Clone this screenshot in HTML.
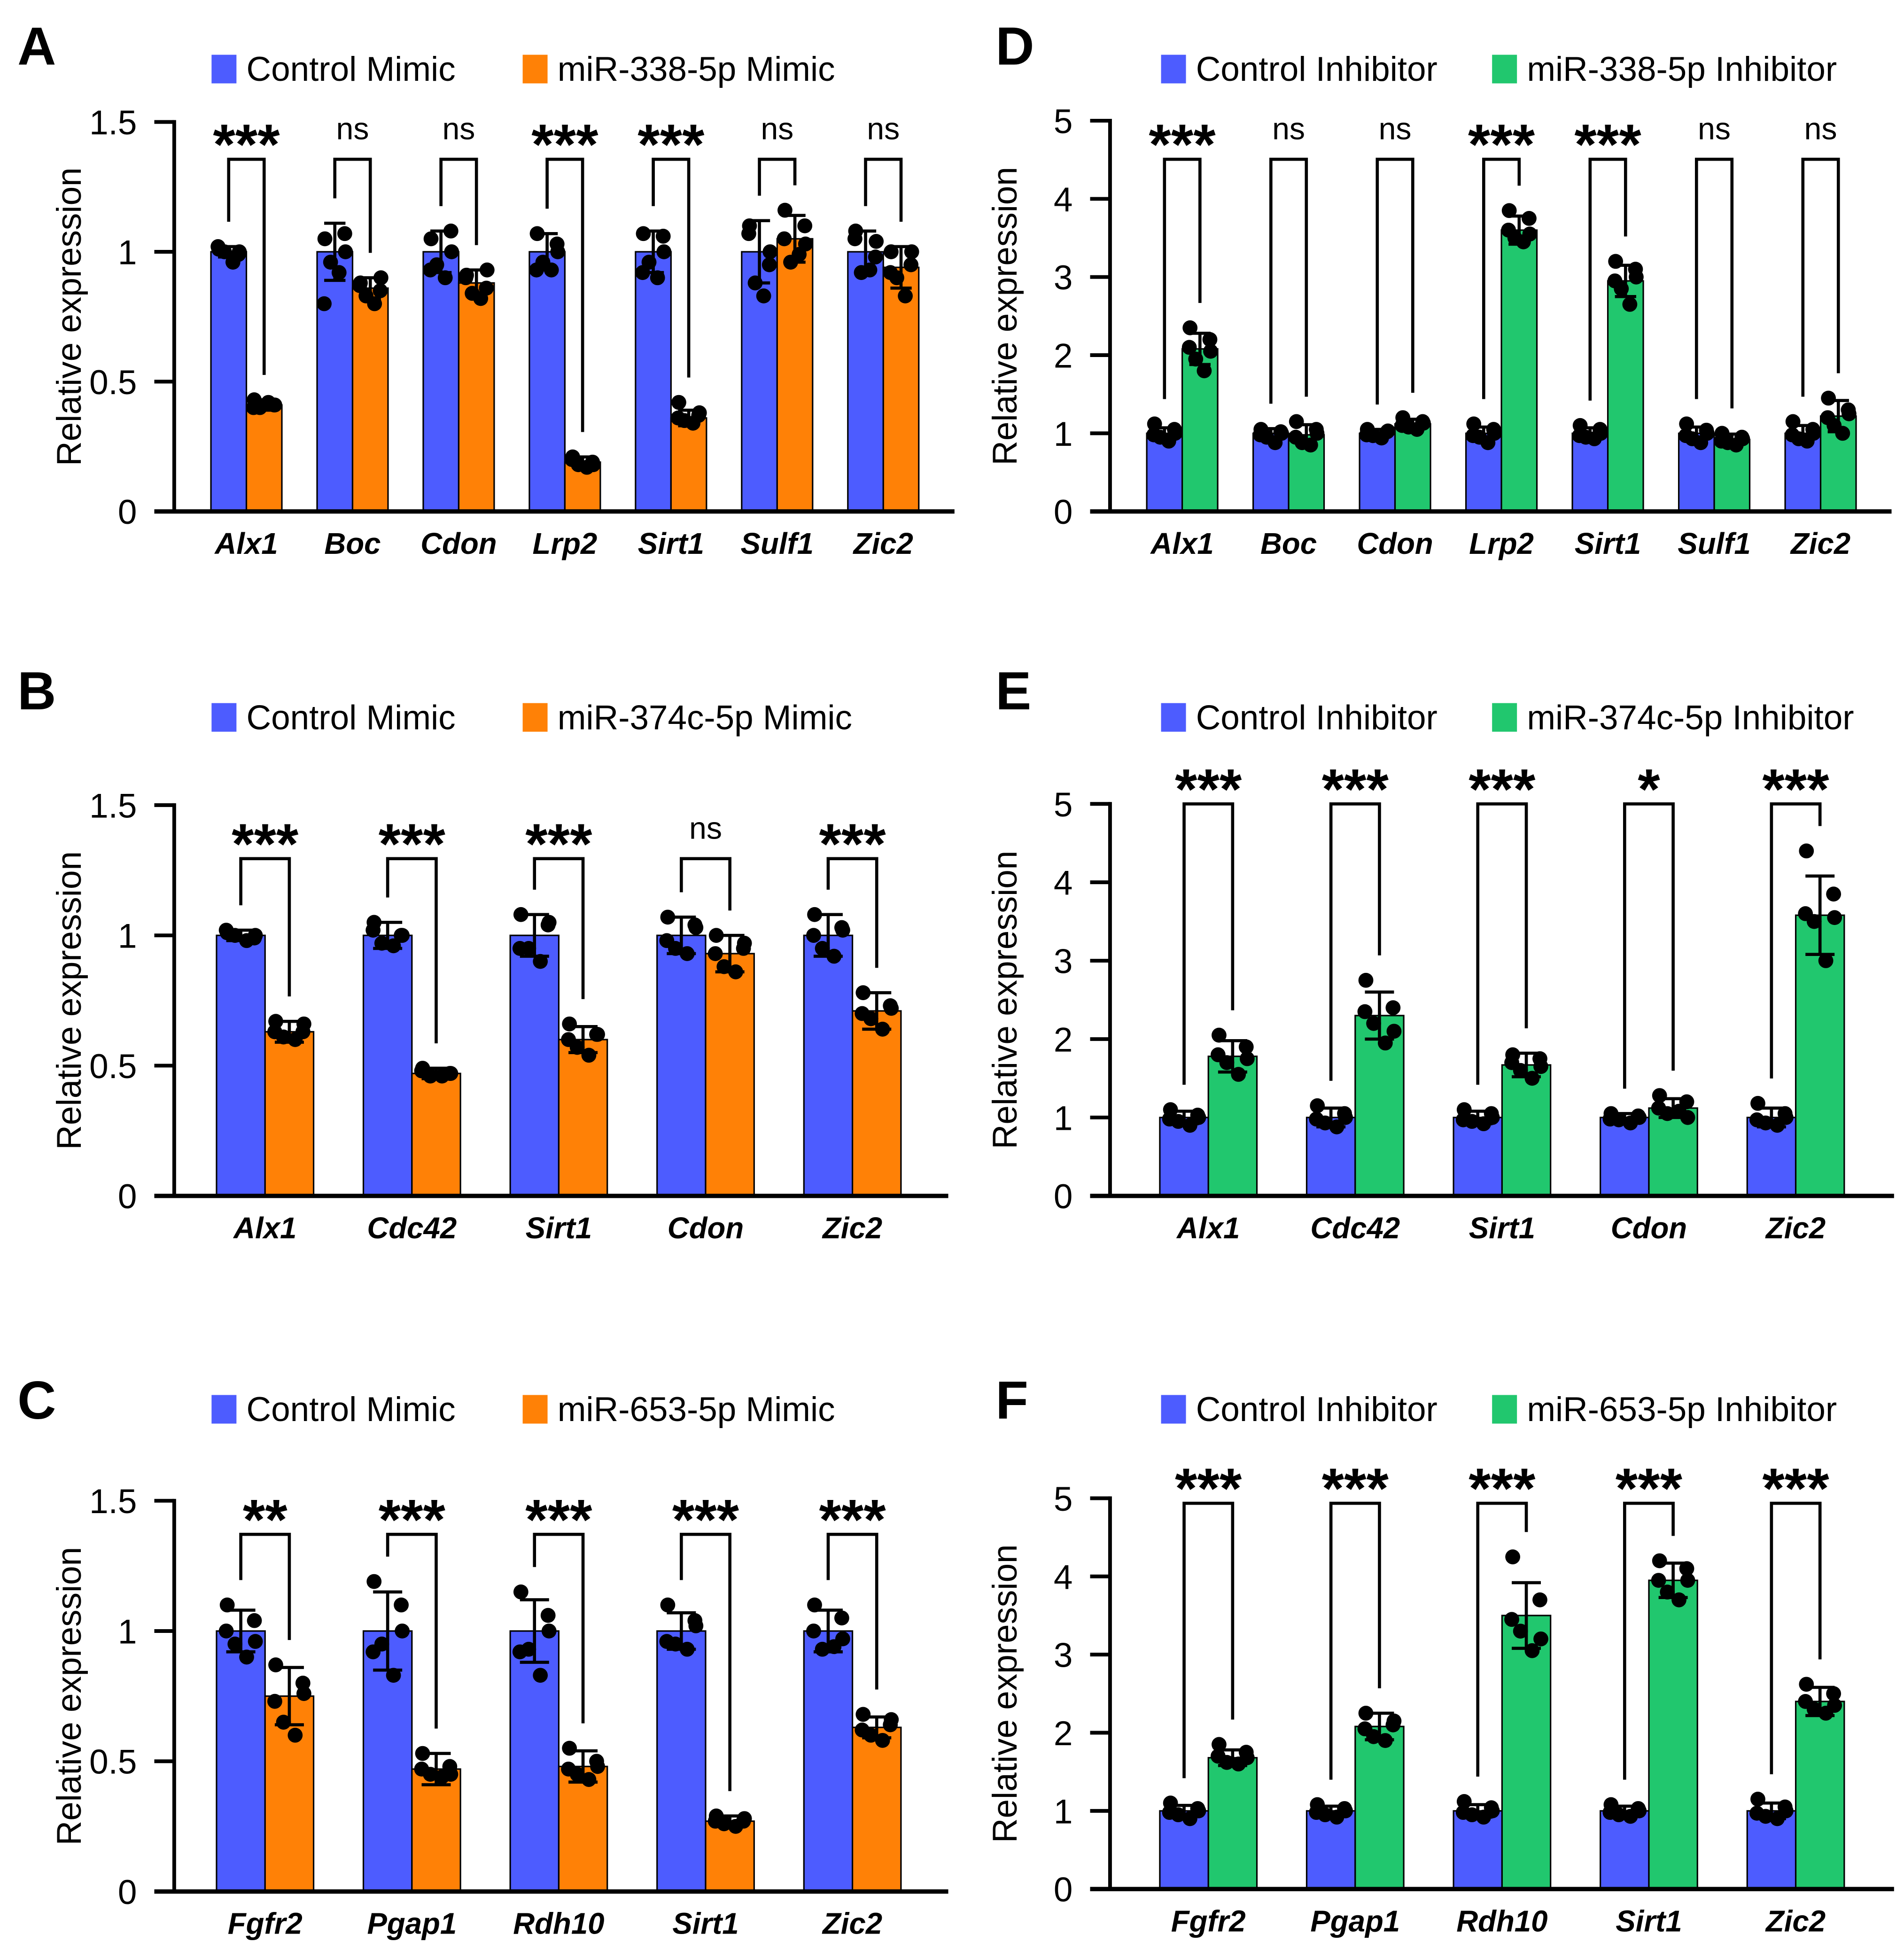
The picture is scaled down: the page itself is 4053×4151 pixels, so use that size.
<!DOCTYPE html>
<html><head><meta charset="utf-8">
<style>
html,body{margin:0;padding:0;background:#fff;}
svg{display:block;}
text{font-family:"Liberation Sans",Arial,sans-serif;}
</style></head>
<body>
<svg id="fig" xmlns="http://www.w3.org/2000/svg" width="4053" height="4151" viewBox="0 0 1530 1567"></svg>
<script>
// ---------- DATA ----------
const genesA = ["Alx1","Boc","Cdon","Lrp2","Sirt1","Sulf1","Zic2"];
const ctrlMeanA = [1,1,1,1,1,1,1];
const ctrlSdA = [0.02,0.11,0.08,0.07,0.08,0.12,0.08];
const trtMeanA = [0.41,0.86,0.88,0.19,0.36,1.05,0.94];
const trtSdA = [0.02,0.04,0.05,0.02,0.03,0.09,0.08];
const ctrlPtsA = [[1.01,0.99,1.0,0.96,1.02,1.0],[1.05,1.07,0.96,0.92,0.8,1.0],[1.05,1.08,0.95,0.9,0.93,1.0],[1.07,1.03,0.96,0.93,0.93,1.0],[1.07,1.06,0.96,0.9,0.92,1.0],[1.1,0.95,0.88,0.83,1.07,1.0],[1.08,0.98,0.92,0.93,1.05,1.04]];
const trtPtsA = [[0.43,0.41,0.40,0.42,0.40,0.41],[0.88,0.85,0.83,0.80,0.87,0.9],[0.91,0.86,0.84,0.82,0.9,0.93],[0.21,0.19,0.18,0.17,0.2,0.18],[0.42,0.37,0.35,0.34,0.36,0.38],[1.16,1.1,0.96,0.99,1.05,1.03],[1.0,0.95,0.9,0.83,0.92,1.0]];
const sigA = ["***","ns","ns","***","***","ns","ns"];

const genesB = ["Alx1","Cdc42","Sirt1","Cdon","Zic2"];
const ctrlMeanB = [1,1,1,1,1];
const ctrlSdB = [0.02,0.05,0.08,0.07,0.08];
const trtMeanB = [0.63,0.47,0.60,0.93,0.71];
const trtSdB = [0.04,0.02,0.05,0.07,0.07];
const ctrlPtsB = [[1.01,0.99,1.0,0.98,1.02,1.0],[1.05,1.0,0.97,0.96,1.02,1.0],[1.08,1.04,0.95,0.9,0.95,1.05],[1.07,1.04,0.95,0.93,0.98,1.03],[1.08,1.03,0.95,0.92,1.0,1.02]];
const trtPtsB = [[0.67,0.63,0.61,0.60,0.63,0.66],[0.49,0.47,0.46,0.46,0.48,0.47],[0.66,0.62,0.57,0.54,0.6,0.62],[1.0,0.95,0.88,0.86,0.93,0.97],[0.78,0.73,0.68,0.64,0.7,0.72]];
const sigB = ["***","***","***","ns","***"];

const genesC = ["Fgfr2","Pgap1","Rdh10","Sirt1","Zic2"];
const ctrlMeanC = [1,1,1,1,1];
const ctrlSdC = [0.08,0.15,0.12,0.07,0.08];
const trtMeanC = [0.75,0.47,0.48,0.27,0.63];
const trtSdC = [0.11,0.06,0.06,0.02,0.04];
const ctrlPtsC = [[1.1,1.04,0.95,0.9,1.0,0.96],[1.19,1.1,0.95,0.83,0.92,1.0],[1.15,1.06,0.93,0.83,0.92,1.0],[1.1,1.04,0.95,0.93,0.96,1.02],[1.1,1.05,0.93,0.94,1.0,0.97]];
const trtPtsC = [[0.87,0.8,0.65,0.6,0.73,0.76],[0.53,0.48,0.45,0.44,0.47,0.45],[0.55,0.5,0.45,0.43,0.47,0.48],[0.29,0.27,0.26,0.25,0.27,0.28],[0.68,0.64,0.6,0.58,0.62,0.66]];
const sigC = ["**","***","***","***","***"];

const genesD = ["Alx1","Boc","Cdon","Lrp2","Sirt1","Sulf1","Zic2"];
const ctrlMeanD = [1,1,1,1,1,1,1];
const ctrlSdD = [0.07,0.06,0.05,0.08,0.07,0.08,0.1];
const trtMeanD = [2.08,0.98,1.12,3.6,2.95,0.92,1.22];
const trtSdD = [0.2,0.13,0.06,0.18,0.2,0.07,0.2];
const ctrlPtsD = [[1.12,1.05,0.95,0.9,0.98,1.0],[1.05,1.02,0.95,0.88,0.98,1.0],[1.05,1.02,0.97,0.94,0.98,1.03],[1.12,1.05,0.95,0.88,0.97,1.0],[1.1,1.05,0.95,0.93,0.97,1.0],[1.12,1.04,0.93,0.88,0.97,1.0],[1.15,1.05,0.93,0.9,0.98,1.0]];
const trtPtsD = [[2.35,2.2,1.95,1.8,2.1,2.05],[1.15,1.05,0.88,0.85,0.95,1.0],[1.2,1.15,1.08,1.05,1.1,1.13],[3.85,3.75,3.5,3.45,3.6,3.55],[3.2,3.1,2.85,2.65,2.95,3.0],[1.0,0.95,0.88,0.85,0.9,0.93],[1.45,1.3,1.1,1.0,1.2,1.25]];
const sigD = ["***","ns","ns","***","***","ns","ns"];

const genesE = ["Alx1","Cdc42","Sirt1","Cdon","Zic2"];
const ctrlMeanE = [1,1,1,1,1];
const ctrlSdE = [0.08,0.12,0.08,0.05,0.12];
const trtMeanE = [1.78,2.3,1.67,1.12,3.58];
const trtSdE = [0.2,0.3,0.15,0.12,0.5];
const ctrlPtsE = [[1.1,1.03,0.95,0.9,0.98,1.0],[1.15,1.05,0.93,0.88,0.98,1.0],[1.1,1.05,0.95,0.92,0.97,1.0],[1.05,1.02,0.97,0.93,0.98,1.0],[1.18,1.05,0.93,0.9,0.97,1.0]];
const trtPtsE = [[2.05,1.9,1.7,1.55,1.8,1.75],[2.75,2.4,2.2,1.95,2.35,2.1],[1.8,1.75,1.6,1.5,1.7,1.65],[1.28,1.2,1.05,1.08,1.12,1.0],[4.4,3.85,3.5,3.0,3.6,3.55]];
const sigE = ["***","***","***","*","***"];

const genesF = ["Fgfr2","Pgap1","Rdh10","Sirt1","Zic2"];
const ctrlMeanF = [1,1,1,1,1];
const ctrlSdF = [0.07,0.06,0.08,0.06,0.1];
const trtMeanF = [1.68,2.08,3.5,3.95,2.4];
const trtSdF = [0.1,0.17,0.42,0.22,0.18];
const ctrlPtsF = [[1.1,1.03,0.95,0.9,0.98,1.0],[1.08,1.03,0.95,0.92,0.98,1.0],[1.12,1.04,0.95,0.92,0.98,1.0],[1.08,1.03,0.95,0.93,0.98,1.0],[1.15,1.05,0.93,0.9,0.97,1.0]];
const trtPtsF = [[1.85,1.75,1.62,1.6,1.7,1.68],[2.25,2.1,1.95,1.9,2.05,2.15],[4.25,3.7,3.3,3.05,3.45,3.2],[4.2,4.1,3.8,3.7,3.95,3.95],[2.62,2.5,2.3,2.25,2.4,2.35]];
const sigF = ["***","***","***","***","***"];

const ticksMimic = [0,0.5,1,1.5];
const tickLabelsMimic = ["0","0.5","1","1.5"];
const ticksInh = [0,1,2,3,4,5];
const tickLabelsInh = ["0","1","2","3","4","5"];

// ---------- RENDER ----------
const NS = "http://www.w3.org/2000/svg";
const svg = document.getElementById("fig");
const BLUE = "#4d5cff", ORANGE = "#ff8106", GREEN = "#21c76e";
function mk(tag, attrs, parent) {
  const e = document.createElementNS(NS, tag);
  for (const k in attrs) e.setAttribute(k, attrs[k]);
  (parent || svg).appendChild(e);
  return e;
}
const jitter = [-0.28,0.28,-0.12,0.12,-0.3,0.3];

function panel(cfg) {
  const g = mk("g", {});
  
  
  const y = v => cfg.y0 - (v / cfg.ymax) * (cfg.y0 - cfg.ytop);
  const L = mk("text", {x: cfg.lx, y: cfg.ly, "font-size": 43, "font-weight": "bold"}, g);
  L.textContent = cfg.letter;
  
  
  const leg = [[cfg.leg1x, BLUE, cfg.name1], [cfg.leg2x, cfg.color, cfg.name2]];
  leg.forEach(([lx, col, name], i) => {
    const lg = mk("g", {}, g);
    
    
    mk("rect", {x: lx, y: cfg.legy - 21, width: 20, height: 23, fill: col}, lg);
    const t = mk("text", {x: lx + 28, y: cfg.legy, "font-size": 27.5}, lg);
    t.textContent = name;
  });
  const ax = mk("g", {}, g);
  
  
  mk("line", {x1: cfg.ax, y1: cfg.ytop - 1.5, x2: cfg.ax, y2: cfg.y0 + 1.5, stroke: "#000", "stroke-width": 3}, ax);
  cfg.ticks.forEach((tv, i) => {
    mk("line", {x1: cfg.ax - 16, y1: y(tv), x2: cfg.ax, y2: y(tv), stroke: "#000", "stroke-width": 3}, ax);
    const t = mk("text", {x: cfg.ax - 30, y: y(tv) + 10, "font-size": 27.5, "text-anchor": "end"}, ax);
    t.textContent = cfg.tickLabels[i];
  });
  const yt = mk("text", {x: 0, y: 0, "font-size": 27.5, "text-anchor": "middle",
    transform: `translate(${cfg.ax - 75},${(cfg.ytop + cfg.y0) / 2}) rotate(-90)`}, g);
  yt.textContent = "Relative expression";
  
  
  const bw = cfg.bw;
  cfg.genes.forEach((gene, i) => {
    const cx = cfg.x0 + i * cfg.dx;
    const grp = mk("g", {}, g);
    
    
    const series = [[cx - bw, BLUE, cfg.cm[i], cfg.cs[i], cfg.cp[i]], [cx, cfg.color, cfg.tm[i], cfg.ts[i], cfg.tp[i]]];
    let tops = [];
    series.forEach(([bx, col, m, sd, pts], si) => {
      const r = mk("rect", {x: bx, y: y(m), width: bw, height: cfg.y0 - y(m), fill: col, stroke: "#000", "stroke-width": 1.2}, grp);
      
      
      const mx = bx + bw / 2, cap = bw * 0.3;
      mk("line", {x1: mx, y1: y(m + sd), x2: mx, y2: y(m - sd), stroke: "#000", "stroke-width": 2.5}, grp);
      mk("line", {x1: mx - cap, y1: y(m + sd), x2: mx + cap, y2: y(m + sd), stroke: "#000", "stroke-width": 2.5}, grp);
      mk("line", {x1: mx - cap, y1: y(m - sd), x2: mx + cap, y2: y(m - sd), stroke: "#000", "stroke-width": 2.5}, grp);
      pts.forEach((p, k) => {
        const c = mk("circle", {cx: mx + jitter[k] * bw, cy: y(p), r: 6, fill: "#000"}, grp);
        
        
      });
      tops.push(Math.min(y(m + sd), y(Math.max(...pts))));
    });
    const bxL = cx - bw / 2, bxR = cx + bw / 2;
    const br = mk("path", {d: `M${bxL},${tops[0] - 20} V${cfg.by} H${bxR} V${tops[1] - 20}`, fill: "none", stroke: "#000", "stroke-width": 2.5}, grp);
    
    
    const s = cfg.sig[i];
    const st = mk("text", {x: cx, y: s === "ns" ? cfg.by - 16 : cfg.by + 4, "font-size": s === "ns" ? 25 : 46, "font-weight": s === "ns" ? "normal" : "bold", "text-anchor": "middle"}, grp);
    st.textContent = s;
    
    
    const xl = mk("text", {x: cx, y: cfg.y0 + 34, "font-size": 24, "font-weight": "bold", "font-style": "italic", "text-anchor": "middle"}, grp);
    xl.textContent = gene;
    
    
  });
  const xa = mk("line", {x1: cfg.ax - 16, y1: cfg.y0, x2: cfg.xend, y2: cfg.y0, stroke: "#000", "stroke-width": 3.5}, g);
  
  
}

panel({letter:"A", lx:14, ly:52, leg1x:170, leg2x:420, legy:65, name1:"Control Mimic", name2:"miR-338-5p Mimic", color:ORANGE,
  ax:140, ytop:98, y0:411, ymax:1.5, ticks:ticksMimic, tickLabels:tickLabelsMimic, xend:767,
  x0:198, dx:85.3, bw:28.5, by:128, genes:genesA, cm:ctrlMeanA, cs:ctrlSdA, tm:trtMeanA, ts:trtSdA, cp:ctrlPtsA, tp:trtPtsA, sig:sigA});
panel({letter:"B", lx:14, ly:570, leg1x:170, leg2x:420, legy:586, name1:"Control Mimic", name2:"miR-374c-5p Mimic", color:ORANGE,
  ax:140, ytop:647, y0:961, ymax:1.5, ticks:ticksMimic, tickLabels:tickLabelsMimic, xend:762,
  x0:213, dx:118, bw:39, by:690, genes:genesB, cm:ctrlMeanB, cs:ctrlSdB, tm:trtMeanB, ts:trtSdB, cp:ctrlPtsB, tp:trtPtsB, sig:sigB});
panel({letter:"C", lx:14, ly:1140, leg1x:170, leg2x:420, legy:1142, name1:"Control Mimic", name2:"miR-653-5p Mimic", color:ORANGE,
  ax:140, ytop:1206, y0:1520, ymax:1.5, ticks:ticksMimic, tickLabels:tickLabelsMimic, xend:762,
  x0:213, dx:118, bw:39, by:1233, genes:genesC, cm:ctrlMeanC, cs:ctrlSdC, tm:trtMeanC, ts:trtSdC, cp:ctrlPtsC, tp:trtPtsC, sig:sigC});
panel({letter:"D", lx:800, ly:52, leg1x:933, leg2x:1199, legy:65, name1:"Control Inhibitor", name2:"miR-338-5p Inhibitor", color:GREEN,
  ax:892, ytop:97, y0:411, ymax:5, ticks:ticksInh, tickLabels:tickLabelsInh, xend:1520,
  x0:950, dx:85.5, bw:28.5, by:128, genes:genesD, cm:ctrlMeanD, cs:ctrlSdD, tm:trtMeanD, ts:trtSdD, cp:ctrlPtsD, tp:trtPtsD, sig:sigD});
panel({letter:"E", lx:800, ly:570, leg1x:933, leg2x:1199, legy:586, name1:"Control Inhibitor", name2:"miR-374c-5p Inhibitor", color:GREEN,
  ax:892, ytop:646, y0:961, ymax:5, ticks:ticksInh, tickLabels:tickLabelsInh, xend:1522,
  x0:971, dx:118, bw:39, by:646, genes:genesE, cm:ctrlMeanE, cs:ctrlSdE, tm:trtMeanE, ts:trtSdE, cp:ctrlPtsE, tp:trtPtsE, sig:sigE});
panel({letter:"F", lx:800, ly:1140, leg1x:933, leg2x:1199, legy:1142, name1:"Control Inhibitor", name2:"miR-653-5p Inhibitor", color:GREEN,
  ax:892, ytop:1204, y0:1518, ymax:5, ticks:ticksInh, tickLabels:tickLabelsInh, xend:1522,
  x0:971, dx:118, bw:39, by:1208, genes:genesF, cm:ctrlMeanF, cs:ctrlSdF, tm:trtMeanF, ts:trtSdF, cp:ctrlPtsF, tp:trtPtsF, sig:sigF});
</script>
</body></html>
